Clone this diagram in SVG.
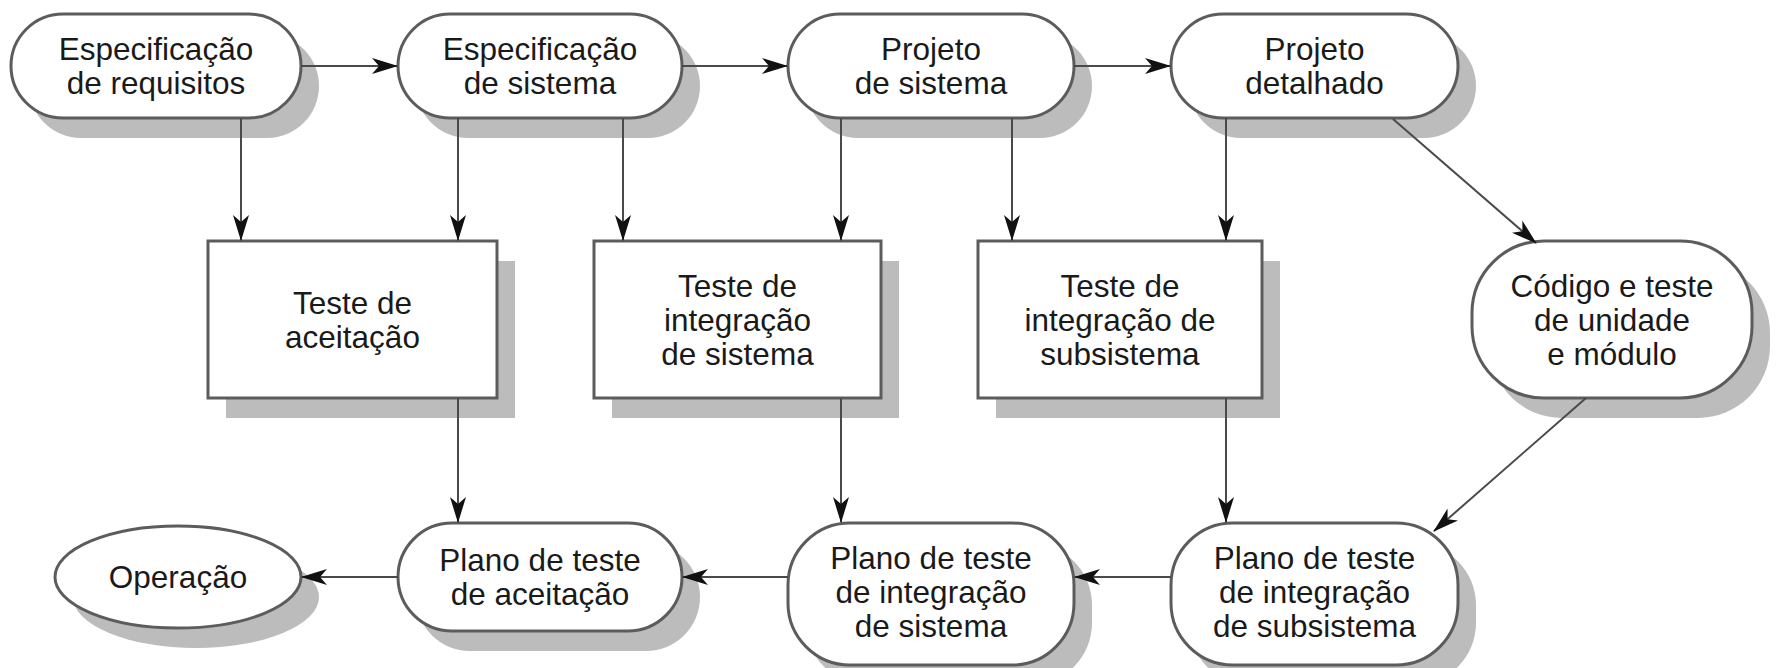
<svg xmlns="http://www.w3.org/2000/svg" width="1783" height="668" viewBox="0 0 1783 668">
<defs>
<style>
.node{fill:#fff;stroke:#5c5c5c;stroke-width:3}
.shadow{fill:#bcbcbc}
.t{font-family:"Liberation Sans",Arial,sans-serif;font-size:31.5px;fill:#1a1a1a;text-anchor:middle}
.c{fill:none;stroke:#4a4a4a;stroke-width:2}
</style>
<marker id="ah" markerUnits="userSpaceOnUse" markerWidth="26" markerHeight="16" refX="25" refY="8" orient="auto">
<path d="M0,0 L26,8 L0,16 L7,8 z" fill="#111"/>
</marker>
</defs>
<rect width="1783" height="668" fill="#fff"/>

<g id="n1">
<rect class="shadow" x="29" y="34" width="290" height="104" rx="52"/>
<rect class="node" x="11" y="14" width="290" height="104" rx="52"/>
<text class="t" x="156" y="60">Especificação</text>
<text class="t" x="156" y="94">de requisitos</text>
</g>
<g id="n2">
<rect class="shadow" x="416" y="34" width="284" height="104" rx="52"/>
<rect class="node" x="398" y="14" width="284" height="104" rx="52"/>
<text class="t" x="540" y="60">Especificação</text>
<text class="t" x="540" y="94">de sistema</text>
</g>
<g id="n3">
<rect class="shadow" x="806" y="34" width="286" height="104" rx="52"/>
<rect class="node" x="788" y="14" width="286" height="104" rx="52"/>
<text class="t" x="931" y="60">Projeto</text>
<text class="t" x="931" y="94">de sistema</text>
</g>
<g id="n4">
<rect class="shadow" x="1189" y="34" width="287" height="104" rx="52"/>
<rect class="node" x="1171" y="14" width="287" height="104" rx="52"/>
<text class="t" x="1314.5" y="60">Projeto</text>
<text class="t" x="1314.5" y="94">detalhado</text>
</g>

<g id="r1">
<rect class="shadow" x="226" y="261" width="289" height="157"/>
<rect class="node" x="208" y="241" width="289" height="157"/>
<text class="t" x="352.5" y="314">Teste de</text>
<text class="t" x="352.5" y="348">aceitação</text>
</g>
<g id="r2">
<rect class="shadow" x="612" y="261" width="287" height="157"/>
<rect class="node" x="594" y="241" width="287" height="157"/>
<text class="t" x="737.5" y="297">Teste de</text>
<text class="t" x="737.5" y="331">integração</text>
<text class="t" x="737.5" y="365">de sistema</text>
</g>
<g id="r3">
<rect class="shadow" x="996" y="261" width="284" height="157"/>
<rect class="node" x="978" y="241" width="284" height="157"/>
<text class="t" x="1120" y="297">Teste de</text>
<text class="t" x="1120" y="331">integração de</text>
<text class="t" x="1120" y="365">subsistema</text>
</g>
<g id="n5">
<rect class="shadow" x="1490" y="261" width="280" height="157" rx="72"/>
<rect class="node" x="1472" y="241" width="280" height="157" rx="72"/>
<text class="t" x="1612" y="297">Código e teste</text>
<text class="t" x="1612" y="331">de unidade</text>
<text class="t" x="1612" y="365">e módulo</text>
</g>

<g id="op">
<ellipse class="shadow" cx="196" cy="597" rx="123" ry="51"/>
<ellipse class="node" cx="178" cy="577" rx="123" ry="51"/>
<text class="t" x="178" y="588">Operação</text>
</g>
<g id="p1">
<rect class="shadow" x="416" y="543" width="284" height="108" rx="54"/>
<rect class="node" x="398" y="523" width="284" height="108" rx="54"/>
<text class="t" x="540" y="571">Plano de teste</text>
<text class="t" x="540" y="605">de aceitação</text>
</g>
<g id="p2">
<rect class="shadow" x="806" y="543" width="286" height="142" rx="62"/>
<rect class="node" x="788" y="523" width="286" height="142" rx="62"/>
<text class="t" x="931" y="569">Plano de teste</text>
<text class="t" x="931" y="603">de integração</text>
<text class="t" x="931" y="637">de sistema</text>
</g>
<g id="p3">
<rect class="shadow" x="1189" y="543" width="287" height="142" rx="62"/>
<rect class="node" x="1171" y="523" width="287" height="142" rx="62"/>
<text class="t" x="1314.5" y="569">Plano de teste</text>
<text class="t" x="1314.5" y="603">de integração</text>
<text class="t" x="1314.5" y="637">de subsistema</text>
</g>

<g id="connectors">
<line class="c" x1="301" y1="66" x2="397" y2="66" marker-end="url(#ah)"/>
<line class="c" x1="682" y1="66" x2="787" y2="66" marker-end="url(#ah)"/>
<line class="c" x1="1074" y1="66" x2="1170" y2="66" marker-end="url(#ah)"/>
<line class="c" x1="241" y1="118" x2="241" y2="240" marker-end="url(#ah)"/>
<line class="c" x1="458" y1="118" x2="458" y2="240" marker-end="url(#ah)"/>
<line class="c" x1="623" y1="118" x2="623" y2="240" marker-end="url(#ah)"/>
<line class="c" x1="841" y1="118" x2="841" y2="240" marker-end="url(#ah)"/>
<line class="c" x1="1012" y1="118" x2="1012" y2="240" marker-end="url(#ah)"/>
<line class="c" x1="1226" y1="118" x2="1226" y2="240" marker-end="url(#ah)"/>
<line class="c" x1="1393" y1="119" x2="1536" y2="243" marker-end="url(#ah)"/>
<line class="c" x1="458" y1="398" x2="458" y2="522" marker-end="url(#ah)"/>
<line class="c" x1="841" y1="398" x2="841" y2="522" marker-end="url(#ah)"/>
<line class="c" x1="1226" y1="398" x2="1226" y2="522" marker-end="url(#ah)"/>
<line class="c" x1="1586" y1="398" x2="1434" y2="531" marker-end="url(#ah)"/>
<line class="c" x1="398" y1="577" x2="302" y2="577" marker-end="url(#ah)"/>
<line class="c" x1="788" y1="577" x2="683" y2="577" marker-end="url(#ah)"/>
<line class="c" x1="1171" y1="577" x2="1075" y2="577" marker-end="url(#ah)"/>
</g>
</svg>
